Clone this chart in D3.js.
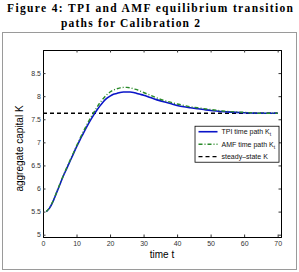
<!DOCTYPE html>
<html>
<head>
<meta charset="utf-8">
<script src="https://cdn.jsdelivr.net/npm/d3@7"></script>
<style>
  body { margin: 0; background: #fff; }
  svg { display: block; }
</style>
</head>
<body>
<div id="chart"></div>
<script>
// values
var tpiT = [1, 2, 3, 4, 5, 6, 7, 8, 9, 10, 11, 12, 13, 14, 15, 16, 17, 18, 19, 20,
  21, 22, 23, 24, 25, 26, 27, 28, 29, 30, 32, 34, 36, 38, 40, 42, 44, 46, 48, 50,
  55, 60, 65, 70];
var tpiK = [5.50, 5.58, 5.72, 5.90, 6.08, 6.26, 6.42, 6.58, 6.74, 6.90, 7.05, 7.19,
  7.33, 7.46, 7.58, 7.69, 7.79, 7.88, 7.95, 8.00, 8.04, 8.06, 8.08, 8.09, 8.09,
  8.09, 8.08, 8.06, 8.04, 8.02, 7.97, 7.92, 7.88, 7.84, 7.80, 7.77, 7.75, 7.73,
  7.71, 7.69, 7.66, 7.64, 7.63, 7.63];
var amfK = [5.50, 5.59, 5.73, 5.91, 6.09, 6.27, 6.44, 6.60, 6.76, 6.92, 7.08, 7.23,
  7.37, 7.51, 7.63, 7.75, 7.86, 7.95, 8.03, 8.09, 8.13, 8.16, 8.18, 8.19, 8.19,
  8.18, 8.16, 8.14, 8.11, 8.08, 8.02, 7.96, 7.91, 7.87, 7.83, 7.80, 7.77, 7.75,
  7.73, 7.71, 7.67, 7.65, 7.63, 7.63];
var steadyK = 7.63;
var xTicks = [0, 10, 20, 30, 40, 50, 60, 70];
var yTicks = [5, 5.5, 6, 6.5, 7, 7.5, 8, 8.5];

var width = 299, height = 272;
var margin = { top: 50, right: 18, bottom: 35, left: 43 };
var innerWidth = width - margin.left - margin.right;
var innerHeight = height - margin.top - margin.bottom;

var svg = d3.select("#chart").append("svg")
  .attr("width", width)
  .attr("height", height);

// title
svg.append("text")
  .attr("x", 7).attr("y", 12)
  .attr("textLength", 286).attr("lengthAdjust", "spacing")
  .attr("font-family", "Liberation Serif").attr("font-weight", "bold")
  .attr("font-size", 11.5)
  .text("Figure 4: TPI and AMF equilibrium transition");
svg.append("text")
  .attr("x", 61).attr("y", 27)
  .attr("textLength", 139).attr("lengthAdjust", "spacing")
  .attr("font-family", "Liberation Serif").attr("font-weight", "bold")
  .attr("font-size", 11.5)
  .text("paths for Calibration 2");

// frame around the figure
svg.append("rect")
  .attr("x", 2.5).attr("y", 32.5).attr("width", 294).attr("height", 237)
  .attr("fill", "none").attr("stroke", "#9a9a9a");

var g = svg.append("g")
  .attr("transform", "translate(" + margin.left + "," + margin.top + ")");

var xScale = d3.scaleLinear().domain([0, 71]).range([0, innerWidth]);
var yScale = d3.scaleLinear().domain([4.95, 9]).range([innerHeight, 0]);
var fmt = function (d) { return String(d); };

// axes with inward ticks, MATLAB style
var xAxisG = g.append("g")
  .attr("transform", "translate(0," + innerHeight + ")")
  .call(d3.axisBottom(xScale).tickValues(xTicks).tickSize(-2.5).tickPadding(4).tickFormat(fmt));
g.append("g").attr("class", "mirror")
  .call(d3.axisTop(xScale).tickValues(xTicks).tickSize(-2.5));
var yAxisG = g.append("g")
  .call(d3.axisLeft(yScale).tickValues(yTicks).tickSize(-2.5).tickPadding(2).tickFormat(fmt));
g.append("g").attr("class", "mirror")
  .attr("transform", "translate(" + innerWidth + ",0)")
  .call(d3.axisRight(yScale).tickValues(yTicks).tickSize(-2.5));

g.selectAll(".mirror .tick text").remove();
g.selectAll(".domain").attr("stroke", "#000");
g.selectAll(".tick line").attr("stroke", "#333");
[xAxisG, yAxisG].forEach(function (a) {
  a.attr("font-family", "Liberation Sans").attr("font-size", 7);
});
g.selectAll(".tick text").attr("fill", "#333");

var line = d3.line()
  .x(function (d) { return xScale(d[0]); })
  .y(function (d) { return yScale(d[1]); })
  .curve(d3.curveMonotoneX);

// steady state
g.append("line")
  .attr("x1", xScale(0)).attr("x2", xScale(70))
  .attr("y1", yScale(steadyK)).attr("y2", yScale(steadyK))
  .attr("stroke", "#000").attr("stroke-width", 1.3)
  .attr("stroke-dasharray", "4,3");

g.append("path")
  .datum(tpiT.map(function (t, i) { return [t, tpiK[i]]; }))
  .attr("d", line)
  .attr("fill", "none").attr("stroke", "#0a14c8").attr("stroke-width", 1.6);

g.append("path")
  .datum(tpiT.map(function (t, i) { return [t, amfK[i]]; }))
  .attr("d", line)
  .attr("fill", "none").attr("stroke", "#2a8a2a").attr("stroke-width", 1.4)
  .attr("stroke-dasharray", "4,2,1,2");

// legend
var legend = g.append("g")
  .attr("transform", "translate(" + (xScale(45.2)) + "," + (yScale(7.36)) + ")");
legend.append("rect")
  .attr("x", 0.5).attr("y", 0.5).attr("width", 84).attr("height", 36)
  .attr("fill", "#fff").attr("stroke", "#000").attr("stroke-width", 0.8);

var legendItems = [
  { label: "TPI time path K", sub: "t", color: "#0a14c8", dash: null, w: 1.6 },
  { label: "AMF time path K", sub: "t", color: "#2a8a2a", dash: "4,2,1,2", w: 1.4 },
  { label: "steady\u2013state K", sub: "", color: "#000", dash: "4,3", w: 1.3 }
];

var rows = legend.selectAll("g.item")
  .data(legendItems)
  .join("g")
  .attr("class", "item")
  .attr("transform", function (d, i) { return "translate(0," + (6 + i * 12.5) + ")"; });

rows.append("line")
  .attr("x1", 4).attr("x2", 23)
  .attr("stroke", function (d) { return d.color; })
  .attr("stroke-width", function (d) { return d.w; })
  .attr("stroke-dasharray", function (d) { return d.dash; });

var labels = rows.append("text")
  .attr("x", 27).attr("y", 2.5)
  .attr("font-family", "Liberation Sans").attr("font-size", 7)
  .attr("fill", "#111");
labels.append("tspan").text(function (d) { return d.label; });
labels.append("tspan")
  .attr("dy", 2).attr("font-size", 5)
  .text(function (d) { return d.sub; });

// axis titles
svg.append("text")
  .attr("x", margin.left + innerWidth / 2).attr("y", 258)
  .attr("text-anchor", "middle")
  .attr("font-family", "Liberation Sans").attr("font-size", 10)
  .text("time t");
svg.append("text")
  .attr("transform", "translate(23," + (margin.top + innerHeight / 2 + 5) + ") rotate(-90)")
  .attr("text-anchor", "middle")
  .attr("font-family", "Liberation Sans").attr("font-size", 10)
  .text("aggregate capital K");
</script>
</body>
</html>
